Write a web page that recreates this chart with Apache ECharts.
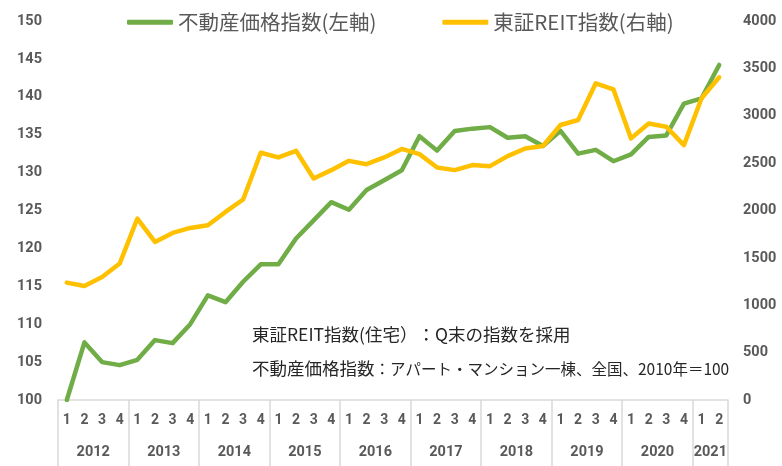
<!DOCTYPE html>
<html>
<head>
<meta charset="utf-8">
<script src="https://cdn.jsdelivr.net/npm/echarts@6/dist/echarts.min.js"></script>
<style>
  html, body { margin: 0; padding: 0; background: #fff; }
  #chart { width: 782px; height: 466px; }
</style>
</head>
<body>
<div id="chart"></div>
<script>
// 四半期ラベル (2012Q1 - 2021Q2)
const years = ['2012', '2013', '2014', '2015', '2016', '2017', '2018', '2019', '2020', '2021'];
const quartersPerYear = [4, 4, 4, 4, 4, 4, 4, 4, 4, 2];

// 不動産価格指数(左軸)
const priceIndex = [
    100.0, 107.6, 105.0, 104.6, 105.3, 107.9, 107.5, 110.0, 113.8, 112.9,
    115.6, 117.9, 117.9, 121.3, 123.7, 126.1, 125.1, 127.7, 129.0, 130.3,
    134.8, 132.9, 135.5, 135.8, 136.0, 134.6, 134.8, 133.5, 135.5, 132.5,
    133.0, 131.5, 132.4, 134.7, 134.9, 139.1, 139.8, 144.2
];

// 東証REIT指数(右軸)
const reitIndex = [
    1239, 1203, 1298, 1440, 1915, 1668, 1763, 1816, 1844, 1985,
    2116, 2609, 2560, 2630, 2338, 2426, 2524, 2489, 2560, 2650,
    2595, 2454, 2426, 2479, 2468, 2574, 2655, 2680, 2902, 2955,
    3342, 3279, 2761, 2919, 2884, 2690, 3184, 3406
];

const leftTicks = { min: 100, max: 150, interval: 5 };
const rightTicks = { min: 0, max: 4000, interval: 500 };

// 注記 (見出し部分 / 説明部分)
const noteHeads = ['東証REIT指数(住宅）', '不動産価格指数'];
const noteBodies = ['：Q末の指数を採用', '：アパート・マンション一棟、全国、2010年＝100'];

// 四半期の番号と、年の区切り・中央位置を作る
const quarterLabels = [];
const yearBoundaries = [0];
const yearCenters = {};
let pos = 0;
years.forEach((y, i) => {
    const n = quartersPerYear[i];
    for (let q = 1; q <= n; q++) quarterLabels.push(String(q));
    yearCenters[pos + n / 2] = y;
    pos += n;
    yearBoundaries.push(pos);
});
const boundaryAxisData = [];
for (let i = 0; i <= pos; i++) boundaryAxisData.push(String(i));

const grey = '#595959';
const lineGrey = '#d9d9d9';
const labelFont = 'Roboto, "Noto Sans", sans-serif';
const jpFont = '"Noto Sans CJK JP", "Noto Sans", sans-serif';

const chart = echarts.init(document.getElementById('chart'));

const noteSizes = [[17.5, 17.5], [17.5, 15.5]];

const option = {
    animation: false,
    grid: { left: 58, right: 54, top: 21, bottom: 66, containLabel: false },
    legend: {
        left: 127,
        top: 12,
        padding: 0,
        itemWidth: 46,
        itemHeight: 5,
        itemGap: 66,
        icon: 'roundRect',
        textStyle: { fontSize: 20.5, color: grey, fontFamily: jpFont },
        data: ['不動産価格指数(左軸)', '東証REIT指数(右軸)']
    },
    xAxis: [{
        type: 'category',
        data: quarterLabels,
        boundaryGap: true,
        axisLine: { show: true, lineStyle: { color: lineGrey, width: 1.5 } },
        axisTick: { show: false },
        axisLabel: {
            interval: 0, margin: 13,
            color: grey, fontSize: 14, fontWeight: 'bold', fontFamily: labelFont
        },
        splitLine: { show: false }
    }, {
        type: 'category',
        data: boundaryAxisData,
        boundaryGap: false,
        position: 'bottom',
        axisLine: { show: false },
        axisTick: {
            show: true,
            length: 66,
            interval: (index) => yearBoundaries.indexOf(index) >= 0,
            lineStyle: { color: lineGrey, width: 1.5 }
        },
        axisLabel: {
            interval: 0, margin: 45,
            color: grey, fontSize: 14.5, fontWeight: 'bold', fontFamily: labelFont,
            formatter: (value, index) => yearCenters[index] || ''
        },
        splitLine: { show: false }
    }],
    yAxis: [{
        type: 'value',
        min: leftTicks.min, max: leftTicks.max, interval: leftTicks.interval,
        position: 'left',
        axisLine: { show: false },
        axisTick: { show: false },
        splitLine: { show: false },
        axisLabel: { margin: 16, color: grey, fontSize: 14.5, fontWeight: 'bold', fontFamily: labelFont }
    }, {
        type: 'value',
        min: rightTicks.min, max: rightTicks.max, interval: rightTicks.interval,
        position: 'right',
        axisLine: { show: false },
        axisTick: { show: false },
        splitLine: { show: false },
        axisLabel: {
            margin: 15, color: grey, fontSize: 14.5, fontWeight: 'bold', fontFamily: labelFont,
            formatter: (v) => String(v)
        }
    }],
    graphic: noteHeads.map((h, i) => ({
        type: 'text',
        left: 252,
        top: 326 + i * 34,
        style: {
            text: '{a|' + h + '}{b|' + noteBodies[i] + '}',
            rich: {
                a: { fontSize: noteSizes[i][0], lineHeight: 20, fill: '#262626', fontFamily: jpFont },
                b: { fontSize: noteSizes[i][1], lineHeight: 20, fill: '#262626', fontFamily: jpFont }
            }
        }
    })),
    series: [{
        name: '不動産価格指数(左軸)',
        type: 'line',
        xAxisIndex: 0,
        yAxisIndex: 0,
        data: priceIndex,
        symbol: 'none',
        color: '#70AD47',
        lineStyle: { width: 4.5, color: '#70AD47', cap: 'round', join: 'round' }
    }, {
        name: '東証REIT指数(右軸)',
        type: 'line',
        xAxisIndex: 0,
        yAxisIndex: 1,
        data: reitIndex,
        symbol: 'none',
        color: '#FFC000',
        lineStyle: { width: 4.5, color: '#FFC000', cap: 'round', join: 'round' }
    }]
};

chart.setOption(option);
</script>
</body>
</html>
